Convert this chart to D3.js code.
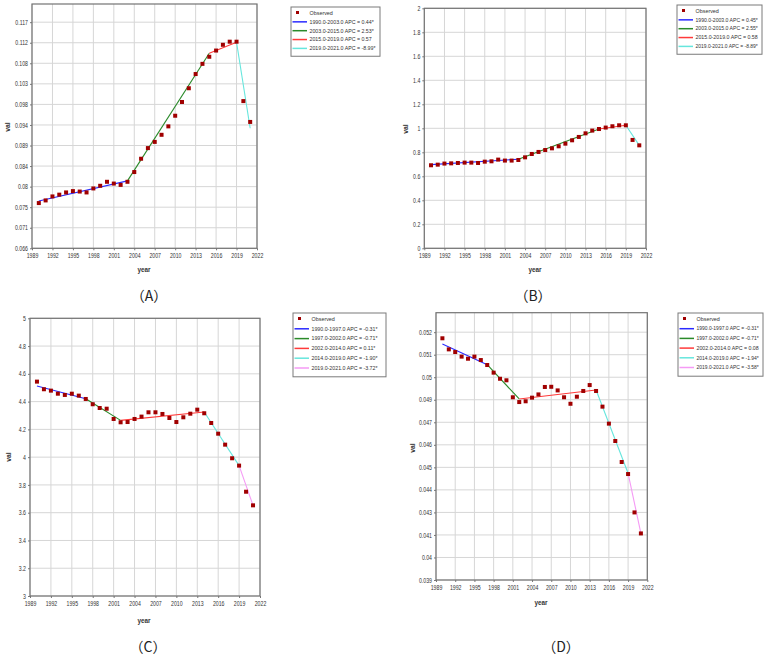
<!DOCTYPE html>
<html><head><meta charset="utf-8">
<script src="https://cdn.jsdelivr.net/npm/d3@7"></script>
<style>
body{margin:0;background:#fff;}
svg{display:block;}
</style></head>
<body><svg id="c" width="767" height="658"></svg>
<script>
// ---------- data ----------
const years = d3.range(1990, 2022);
const valsA = [0.0762,0.0768,0.0777,0.0781,0.0786,0.0789,0.0788,0.0786,0.0795,0.0801,0.0810,0.0806,0.0803,0.0810,0.0832,0.0862,0.0886,0.0900,0.0916,0.0935,0.0959,0.0990,0.1021,0.1053,0.1076,0.1092,0.1106,0.1119,0.1126,0.1126,0.0992,0.0945];
const valsB = [0.692,0.697,0.706,0.708,0.711,0.714,0.714,0.711,0.722,0.725,0.739,0.731,0.731,0.736,0.758,0.786,0.803,0.819,0.833,0.850,0.872,0.900,0.928,0.958,0.981,0.994,1.006,1.017,1.025,1.025,0.903,0.858];
const valsC = [4.544,4.489,4.479,4.457,4.448,4.457,4.443,4.419,4.381,4.354,4.349,4.275,4.251,4.253,4.275,4.292,4.323,4.323,4.311,4.282,4.253,4.287,4.313,4.342,4.316,4.246,4.169,4.090,3.992,3.939,3.751,3.653];
const valsD = [0.05166,0.05108,0.05094,0.05070,0.05059,0.05070,0.05052,0.05026,0.04986,0.04954,0.04946,0.04857,0.04832,0.04836,0.04855,0.04872,0.04911,0.04912,0.04893,0.04857,0.04823,0.04860,0.04890,0.04921,0.04890,0.04808,0.04719,0.04628,0.04518,0.04455,0.04254,0.04144];

const fitYearsA = [1990,2003,2015,2019,2021];
const fitValsA  = [0.07668,0.0812,0.1100,0.11247,0.09307];
const fitYearsB = [1990,2003,2015,2019,2021];
const fitValsB  = [0.697,0.742,0.994,1.025,0.858];
const fitYearsC = [1990,1997,2002,2014,2019,2021];
const fitValsC  = [4.513,4.421,4.265,4.325,3.939,3.653];
const fitYearsD = [1990,1997,2002,2014,2019,2021];
const fitValsD  = [0.05136,0.05028,0.04848,0.04895,0.04459,0.04144];

const legendA = ["1990.0-2003.0 APC = 0.44*","2003.0-2015.0 APC = 2.53*","2015.0-2019.0 APC = 0.57","2019.0-2021.0 APC = -8.99*"];
const legendB = ["1990.0-2003.0 APC = 0.45*","2003.0-2015.0 APC = 2.55*","2015.0-2019.0 APC = 0.58","2019.0-2021.0 APC = -8.89*"];
const legendC = ["1990.0-1997.0 APC = -0.31*","1997.0-2002.0 APC = -0.71*","2002.0-2014.0 APC = 0.11*","2014.0-2019.0 APC = -1.90*","2019.0-2021.0 APC = -3.72*"];
const legendD = ["1990.0-1997.0 APC = -0.31*","1997.0-2002.0 APC = -0.71*","2002.0-2014.0 APC = 0.08","2014.0-2019.0 APC = -1.94*","2019.0-2021.0 APC = -3.58*"];

const yTicksA = ["0.066","0.071","0.075","0.08","0.084","0.089","0.094","0.098","0.103","0.108","0.112","0.117"];
const yTicksB = ["0","0.2","0.4","0.6","0.8","1","1.2","1.4","1.6","1.8","2"];
const yTicksC = ["3","3.2","3.4","3.6","3.8","4","4.2","4.4","4.6","4.8","5"];
const yTicksD = ["0.039","0.04","0.041","0.043","0.044","0.045","0.046","0.047","0.049","0.05","0.051","0.052"];
const xTicks = d3.range(1989, 2023, 3);
const panelLabels = ["（A）","（B）","（C）","（D）"];
const observedLabel = "Observed";

// ---------- layout ----------
const segColors = ["#2a2aff","#2a8a2a","#ff3a3a","#66e6dd","#f59af5"];
const panels = [
  {vals:valsA, fy:fitYearsA, fv:fitValsA, leg:legendA, tl:yTicksA, y0:0.066, step:0.051/11, ymax:0.1211,
   box:{l:32,r:257,t:4,b:248.3}, yearPos:[144,272], valPos:[7,127], lab:[149,296],
   lg:{x:291,y:7,w:89,rowH:8.85}},
  {vals:valsB, fy:fitYearsB, fv:fitValsB, leg:legendB, tl:yTicksB, y0:0, step:0.2, ymax:2,
   box:{l:424.3,r:646,t:8.3,b:248.3}, yearPos:[535,272], valPos:[405,129], lab:[533,296],
   lg:{x:677,y:5,w:85,rowH:8.85}},
  {vals:valsC, fy:fitYearsC, fv:fitValsC, leg:legendC, tl:yTicksC, y0:3, step:0.2, ymax:5,
   box:{l:30,r:260,t:318.3,b:596}, yearPos:[144,623], valPos:[8,457], lab:[148,647],
   lg:{x:293,y:313,w:93,rowH:9.8}},
  {vals:valsD, fy:fitYearsD, fv:fitValsD, leg:legendD, tl:yTicksD, y0:0.039, step:0.00118, ymax:0.053,
   box:{l:436,r:647.3,t:312.7,b:580}, yearPos:[541,605], valPos:[412,448], lab:[561,647],
   lg:{x:678,y:313,w:85,rowH:9.7}}
];

const svg = d3.select("#c");
const tickFont = "'Liberation Sans',Arial,sans-serif";

function squeeze(sel, f) {
  sel.each(function () {
    const w = this.getComputedTextLength();
    d3.select(this).attr("textLength", w * f).attr("lengthAdjust", "spacingAndGlyphs");
  });
}
// shrink font size so text fits (no glyph squeezing, so nothing overflows)
function fitSize(sel, base, f, maxW) {
  sel.each(function () {
    const w = this.getComputedTextLength();
    let k = f;
    if (w * k > maxW) k = maxW / w;
    d3.select(this).attr("font-size", base * k);
  });
}

panels.forEach((p, pi) => {
  const g = svg.append("g");
  const x = d3.scaleLinear().domain([1989, 2022]).range([p.box.l, p.box.r]);
  const y = d3.scaleLinear().domain([p.y0, p.ymax]).range([p.box.b, p.box.t]);
  const yVals = p.tl.map((_, i) => p.y0 + i * p.step);

  // grid
  g.append("g").selectAll("line").data(yVals).join("line")
    .attr("x1", p.box.l).attr("x2", p.box.r)
    .attr("y1", d => y(d)).attr("y2", d => y(d))
    .attr("stroke", "#d6d6d6").attr("stroke-width", 1);
  g.append("g").selectAll("line").data(xTicks).join("line")
    .attr("x1", d => x(d)).attr("x2", d => x(d))
    .attr("y1", p.box.t).attr("y2", p.box.b)
    .attr("stroke", "#d6d6d6").attr("stroke-width", 1);

  // axes
  const yAxis = d3.axisLeft(y).tickValues(yVals).tickSize(2).tickPadding(2)
    .tickFormat((d, i) => p.tl[i]);
  const ya = g.append("g").attr("transform", `translate(${p.box.l},0)`).call(yAxis);
  const xAxis = d3.axisBottom(x).tickValues(xTicks).tickSize(2).tickPadding(3)
    .tickFormat(d3.format("d"));
  const xa = g.append("g").attr("transform", `translate(0,${p.box.b})`).call(xAxis);
  [ya, xa].forEach(a => {
    a.select(".domain").remove();
    a.selectAll(".tick line").attr("stroke", "#777");
    a.selectAll("text").attr("font-family", tickFont).attr("font-size", 6.5).attr("fill", "#333");
    squeeze(a.selectAll("text"), 0.8);
  });

  // frame
  g.append("rect").attr("x", p.box.l).attr("y", p.box.t)
    .attr("width", p.box.r - p.box.l).attr("height", p.box.b - p.box.t)
    .attr("fill", "none").attr("stroke", "#737373").attr("stroke-width", 1.2);

  // fitted segments
  for (let i = 0; i < p.fy.length - 1; i++) {
    g.append("line")
      .attr("x1", x(p.fy[i])).attr("y1", y(p.fv[i]))
      .attr("x2", x(p.fy[i+1])).attr("y2", y(p.fv[i+1]))
      .attr("stroke", segColors[i]).attr("stroke-width", 1.1);
  }

  // observed points
  g.append("g").selectAll("rect").data(years).join("rect")
    .attr("x", d => x(d) - 2).attr("y", (d, i) => y(p.vals[i]) - 2)
    .attr("width", 4).attr("height", 4).attr("fill", "#a00000");

  // axis titles
  const yt = g.append("text").attr("x", p.yearPos[0]).attr("y", p.yearPos[1]).attr("text-anchor", "middle")
    .attr("font-family", tickFont).attr("font-weight", "bold").attr("font-size", 8).attr("fill", "#333").text("year");
  squeeze(yt, 0.8);
  const vt = g.append("text").attr("transform", `translate(${p.valPos[0]},${p.valPos[1]}) rotate(-90)`)
    .attr("text-anchor", "middle").attr("dy", "0.35em")
    .attr("font-family", tickFont).attr("font-weight", "bold").attr("font-size", 8).attr("fill", "#333").text("val");
  squeeze(vt, 0.85);

  // panel label
  g.append("text").attr("x", p.lab[0]).attr("y", p.lab[1]).attr("text-anchor", "middle").attr("dy", "0.35em")
    .attr("font-family", "'Noto Sans CJK SC',sans-serif").attr("font-size", 14).attr("fill", "#222")
    .text(panelLabels[pi]);

  // legend
  const lg = p.lg;
  const n = p.leg.length + 1;
  const lgG = g.append("g");
  lgG.append("rect").attr("x", lg.x).attr("y", lg.y).attr("width", lg.w)
    .attr("height", lg.rowH * n + 5).attr("fill", "#fff").attr("stroke", "#7a7a7a").attr("stroke-width", 1);
  const rowY = i => lg.y + 6 + i * lg.rowH;
  const textX = lg.x + 18.5;
  const avail = lg.x + lg.w - 4 - textX;
  lgG.append("rect").attr("x", lg.x + 5).attr("y", rowY(0) - 2).attr("width", 3).attr("height", 3).attr("fill", "#a00000");
  const ot = lgG.append("text").attr("x", textX).attr("y", rowY(0)).attr("dy", "0.35em")
    .attr("font-family", tickFont).attr("font-size", 6).attr("fill", "#333").text(observedLabel);
  fitSize(ot, 6, 0.9, avail);
  p.leg.forEach((t, i) => {
    lgG.append("line").attr("x1", lg.x + 1.5).attr("x2", lg.x + 16).attr("y1", rowY(i+1)).attr("y2", rowY(i+1))
      .attr("stroke", segColors[i]).attr("stroke-width", 1.5);
    const tt = lgG.append("text").attr("x", textX).attr("y", rowY(i+1)).attr("dy", "0.35em")
      .attr("font-family", tickFont).attr("font-size", 6).attr("fill", "#333").text(t);
    fitSize(tt, 6, 0.88, avail);
  });
});
</script>
</body></html>
